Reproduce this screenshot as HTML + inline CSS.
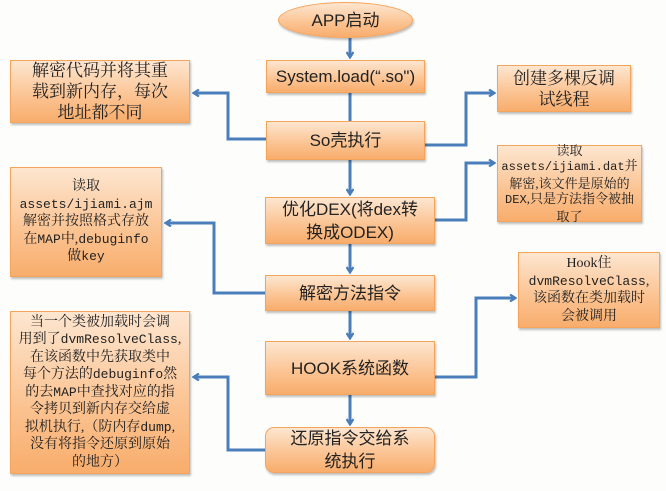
<!DOCTYPE html>
<html><head><meta charset="utf-8"><style>
html,body{margin:0;padding:0;}
body{width:666px;height:491px;background:#fdfdfb;position:relative;overflow:hidden;}
.b{position:absolute;box-sizing:border-box;border:1px solid #f5a45c;background:linear-gradient(#fde6d0,#fbc290 60%,#f8ad6c);box-shadow:1px 2px 2px rgba(0,0,0,0.25);display:flex;align-items:center;justify-content:center;text-align:center;color:#222;}
.b>div{width:100%;}
.m{font-family:"Liberation Sans","Noto Sans CJK SC",sans-serif;font-size:17px;line-height:23px;}
.s{font-family:"Liberation Serif","Noto Serif CJK SC",serif;font-size:14px;line-height:17.5px;}
.t{font-family:"Liberation Mono","Noto Serif CJK SC",monospace;font-size:0.93em;}
svg{position:absolute;left:0;top:0;}
</style></head><body>
<svg width="666" height="491">
<defs><marker id="a" markerWidth="8" markerHeight="8" refX="6" refY="4" orient="auto" markerUnits="userSpaceOnUse"><path d="M1,0.5 L6.5,4 L1,7.5" fill="none" stroke="#4a7ebb" stroke-width="2.2"/></marker></defs>
<g stroke="#4a7ebb" stroke-width="3" fill="none">
<line x1="350" y1="38" x2="350" y2="57" marker-end="url(#a)"/>
<line x1="350" y1="93" x2="350" y2="121"/>
<line x1="350" y1="160" x2="350" y2="194" marker-end="url(#a)"/>
<line x1="350" y1="244" x2="350" y2="272" marker-end="url(#a)"/>
<line x1="350" y1="311" x2="350" y2="338" marker-end="url(#a)"/>
<line x1="350" y1="395" x2="350" y2="424" marker-end="url(#a)"/>
<polyline points="266,139 228,139 228,93 194,93" marker-end="url(#a)"/>
<polyline points="266,293 214,293 214,223 166,223" marker-end="url(#a)"/>
<polyline points="266,450 228,450 228,377 194,377" marker-end="url(#a)"/>
<polyline points="425,145 466,145 466,93 494,93" marker-end="url(#a)"/>
<polyline points="435,220 466,220 466,163 494,163" marker-end="url(#a)"/>
<polyline points="435,377 476,377 476,298 515,298" marker-end="url(#a)"/>
</g></svg>
<div class="b m" style="left:278px;top:2px;width:135px;height:36px;border-radius:50%;"><div>APP启动</div></div>
<div class="b m" style="left:266px;top:60px;width:159px;height:33px;"><div>System.load(“.so")</div></div>
<div class="b m" style="left:266px;top:121px;width:159px;height:39px;"><div>So壳执行</div></div>
<div class="b m" style="left:265px;top:197px;width:170px;height:47px;"><div>优化DEX(将dex转<br>换成ODEX)</div></div>
<div class="b m" style="left:265px;top:275px;width:170px;height:36px;"><div>解密方法指令</div></div>
<div class="b m" style="left:265px;top:341px;width:170px;height:54px;"><div>HOOK系统函数</div></div>
<div class="b m" style="left:265px;top:427px;width:170px;height:46px;border-radius:9px;"><div>还原指令交给系<br>统执行</div></div>
<div class="b s" style="left:10px;top:60px;width:180px;height:63px;font-size:17px;line-height:21px;"><div>解密代码并将其重<br>载到新内存，每次<br>地址都不同</div></div>
<div class="b s" style="left:10px;top:167px;width:152px;height:110px;"><div>读取<br><span class="t">assets/ijiami.ajm</span><br>解密并按照格式存放<br>在<span class="t">MAP</span>中,<span class="t">debuginfo</span><br>做<span class="t">key</span></div></div>
<div class="b s" style="left:10px;top:311px;width:180px;height:163px;"><div>当一个类被加载时会调<br>用到了<span class="t">dvmResolveClass</span>,<br>在该函数中先获取类中<br>每个方法的<span class="t">debuginfo</span>然<br>的去<span class="t">MAP</span>中查找对应的指<br>令拷贝到新内存交给虚<br>拟机执行,（防内存<span class="t">dump</span>,<br>没有将指令还原到原始<br>的地方）</div></div>
<div class="b s" style="left:497px;top:65px;width:134px;height:47px;font-size:17px;line-height:21px;"><div>创建多棵反调<br>试线程</div></div>
<div class="b s" style="left:497px;top:145px;width:145px;height:77px;font-size:13px;line-height:15.5px;"><div>读取<br><span class="t">assets/ijiami.dat</span>并<br>解密,该文件是原始的<br><span class="t">DEX</span>,只是方法指令被抽<br>取了</div></div>
<div class="b s" style="left:518px;top:252px;width:142px;height:76px;"><div>Hook住<br><span class="t">dvmResolveClass</span>,<br>该函数在类加载时<br>会被调用</div></div>
</body></html>
